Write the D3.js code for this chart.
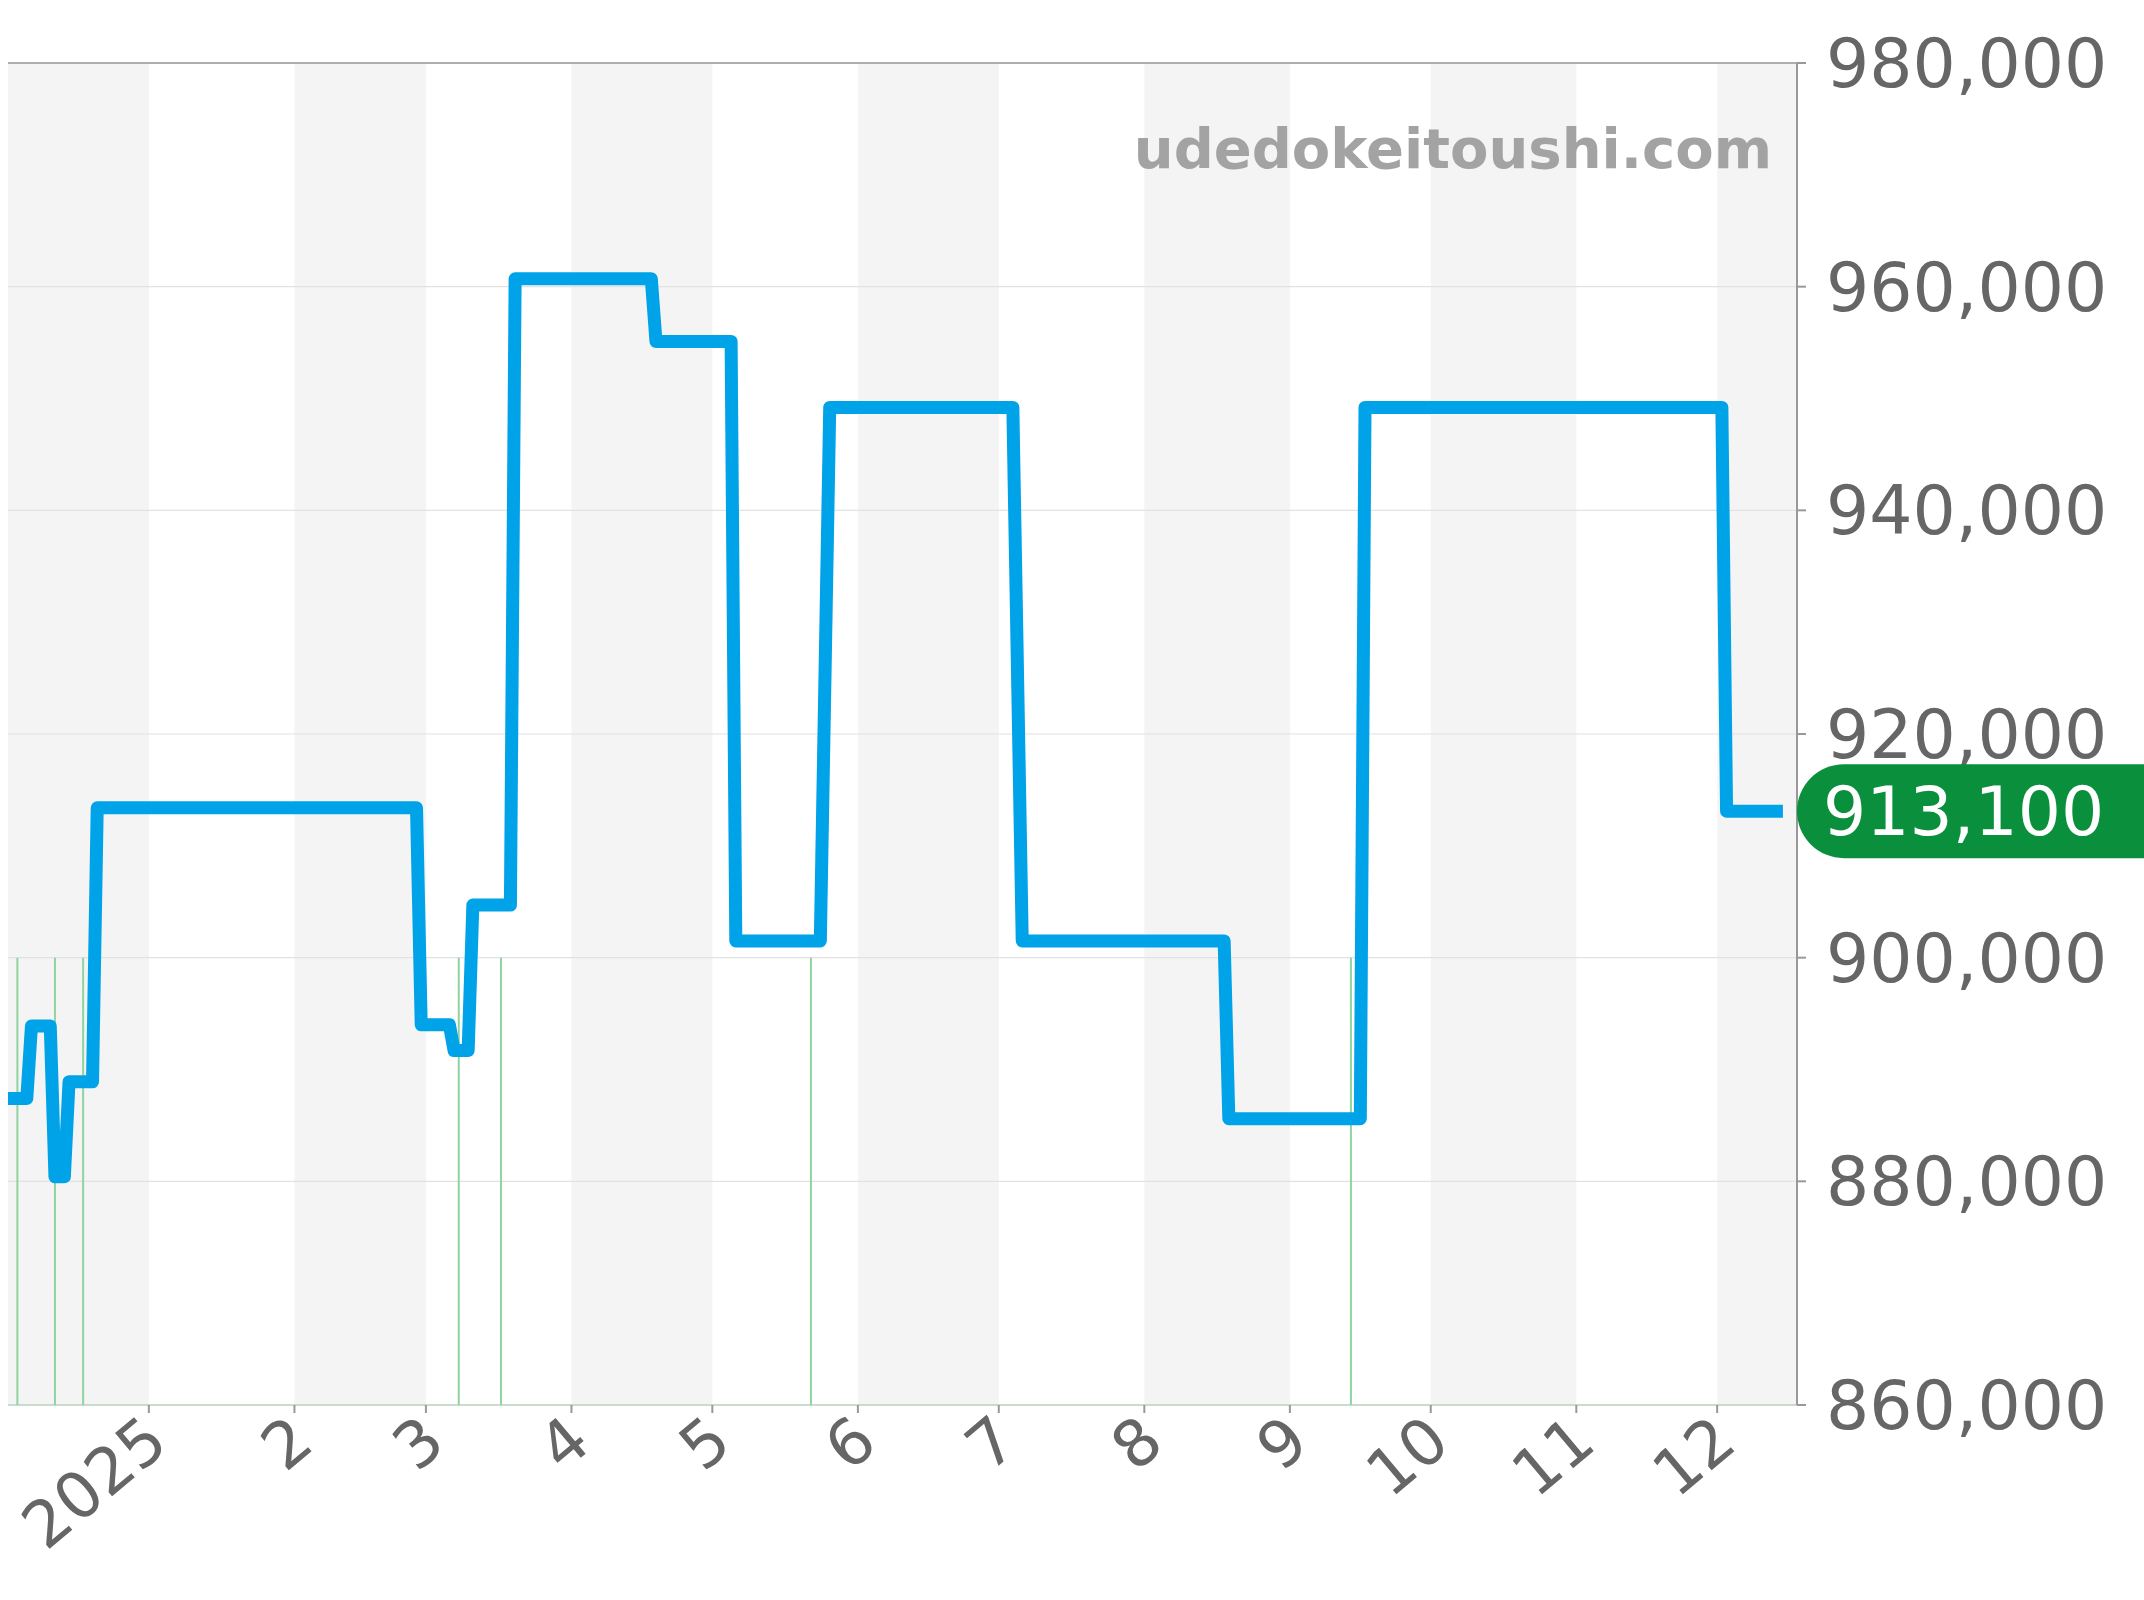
<!DOCTYPE html>
<html><head><meta charset="utf-8">
<script src="https://cdn.jsdelivr.net/npm/d3@7"></script>
<style>body{margin:0;background:#fff}text{font-family:"DejaVu Sans",sans-serif}</style>
</head><body><svg id="c" width="2144" height="1600"></svg>
<script>
// price history (date, yen)
const dates = ["2024-12-02","2024-12-06","2024-12-07","2024-12-11","2024-12-12","2024-12-14","2024-12-15","2024-12-20","2024-12-21",
  "2025-02-27","2025-02-28","2025-03-06","2025-03-07","2025-03-10","2025-03-11","2025-03-19","2025-03-20","2025-04-18","2025-04-19",
  "2025-05-05","2025-05-06","2025-05-24","2025-05-26","2025-07-04","2025-07-06","2025-08-18","2025-08-19","2025-09-16","2025-09-17",
  "2025-12-02","2025-12-03","2025-12-15"];
const prices = [887400,887400,893900,893900,880400,880400,888900,888900,913400,
  913400,894000,894000,891700,891700,904700,904700,960700,960700,955100,
  955100,901500,901500,949200,949200,901500,901500,885600,885600,949200,
  949200,913100,913100];
const eventDates = ["2024-12-04","2024-12-12","2024-12-18","2025-03-08","2025-03-17","2025-05-22","2025-09-14"];
const yTicks = [860000,880000,900000,920000,940000,960000,980000];
const monthTicks = ["2025-01-01","2025-02-01","2025-03-01","2025-04-01","2025-05-01","2025-06-01","2025-07-01","2025-08-01","2025-09-01","2025-10-01","2025-11-01","2025-12-01"];
const monthLabels = ["2025","2","3","4","5","6","7","8","9","10","11","12"];
const latest = 913100;

const parse = d3.timeParse("%Y-%m-%d");
const svg = d3.select("#c");
const L = 8, R = 1797, T = 63, B = 1405;
const x = d3.scaleTime().domain([parse("2024-12-02"), parse("2025-12-18")]).range([L, R]);
const y = d3.scaleLinear().domain([860000, 980000]).range([B, T]);
const fmt = d3.format(",");

// alternating month bands
const bandStarts = [parse("2024-12-02"), ...monthTicks.map(parse)];
bandStarts.forEach((d, i) => {
  if (i % 2 === 0) {
    const e = i + 1 < bandStarts.length ? bandStarts[i + 1] : x.domain()[1];
    svg.append("rect").attr("x", x(d)).attr("y", T).attr("width", x(e) - x(d)).attr("height", B - T).attr("fill", "#f4f4f4");
  }
});

// gridlines
svg.selectAll(".g").data(yTicks).join("line")
  .attr("x1", L).attr("x2", R).attr("y1", d => y(d)).attr("y2", d => y(d))
  .attr("stroke", "#e2e2e2").attr("stroke-width", 1.2);
svg.append("line").attr("x1", L).attr("x2", R).attr("y1", T).attr("y2", T).attr("stroke", "#999").attr("stroke-width", 1.5);
svg.append("line").attr("x1", L).attr("x2", R).attr("y1", B).attr("y2", B).attr("stroke", "#b8d8bf").attr("stroke-width", 1.5);
svg.append("line").attr("x1", R).attr("x2", R).attr("y1", T).attr("y2", B).attr("stroke", "#999").attr("stroke-width", 2);

// event markers
svg.selectAll(".ev").data(eventDates).join("line")
  .attr("x1", d => x(parse(d))).attr("x2", d => x(parse(d)))
  .attr("y1", y(900000)).attr("y2", B)
  .attr("stroke", "#8fd39f").attr("stroke-width", 2);

// y axis
svg.selectAll(".yt").data(yTicks).join("line")
  .attr("x1", R).attr("x2", R + 9).attr("y1", d => y(d)).attr("y2", d => y(d)).attr("stroke", "#999").attr("stroke-width", 2);
svg.selectAll(".yl").data(yTicks).join("text")
  .attr("x", 1826).attr("y", d => y(d) + 24).attr("font-size", 68).attr("fill", "#666").text(d => fmt(d));

// x axis
monthTicks.forEach((m, i) => {
  const px = x(parse(m));
  svg.append("line").attr("x1", px).attr("x2", px).attr("y1", B).attr("y2", B + 8).attr("stroke", "#999").attr("stroke-width", 2);
  svg.append("text").attr("transform", `translate(${px + 22},${B + 42}) rotate(-40)`)
    .attr("text-anchor", "end").attr("font-size", 64).attr("fill", "#666").text(monthLabels[i]);
});

// watermark
svg.append("text").attr("x", 1772).attr("y", 168).attr("text-anchor", "end")
  .attr("font-size", 56).attr("font-weight", "bold").attr("fill", "#a3a3a3").text("udedokeitoushi.com");

// price line
const pts = dates.map((d, i) => [parse(d), prices[i]]);
svg.append("path").datum(pts)
  .attr("d", d3.line().x(d => x(d[0])).y(d => y(d[1])))
  .attr("fill", "none").attr("stroke", "#00a2e8").attr("stroke-width", 13).attr("stroke-linejoin", "round");

// latest badge
svg.append("rect").attr("x", R).attr("y", y(latest) - 47).attr("width", 420).attr("height", 94).attr("rx", 47)
  .attr("fill", "#0a8f3c");
svg.append("text").attr("x", 1823).attr("y", y(latest) + 24).attr("font-size", 68).attr("fill", "#fff").text(fmt(latest));
</script></body></html>
